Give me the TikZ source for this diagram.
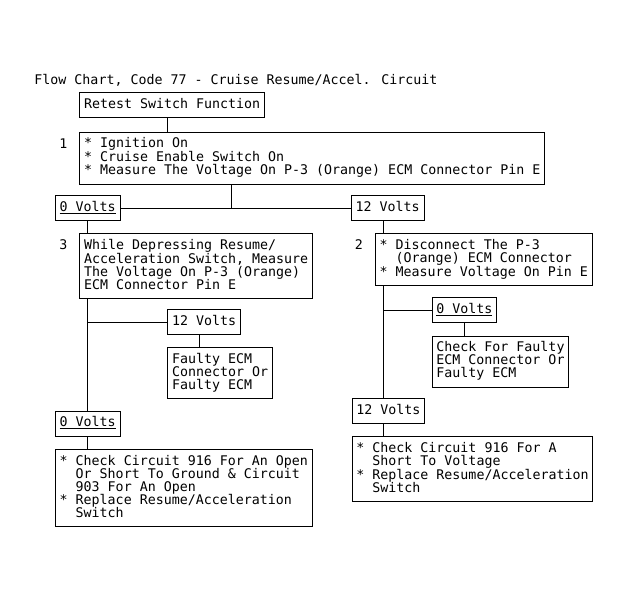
\documentclass[tikz,border=0pt]{standalone}
\usepackage{fontspec}
\newfontfamily\chartfont{DejaVu Sans Mono}
\newcommand{\hangin}{\phantom{*~}}
\tikzstyle{stepbox}=[draw,anchor=north west,align=left,inner xsep=4.25pt,inner ysep=5.5pt,font={\chartfont\fontsize{13.3pt}{13pt}\selectfont},execute at begin node=\strut,execute at end node=\strut]
\tikzstyle{stepnum}=[inner sep=0pt,font={\chartfont\fontsize{13.3pt}{13pt}\selectfont}]
\tikzstyle{heading}=[anchor=base west,inner sep=0pt,font={\chartfont\fontsize{13.3pt}{13pt}\selectfont}]
\tikzstyle{link}=[draw]
\begin{document}
\begin{tikzpicture}[x=1pt,y=-1pt,line width=0.9pt]
  \path[fill=white] (0,0) rectangle (630,601);
  \useasboundingbox (0,0) rectangle (630,601);

  \node[heading] (title) at (34,85) {Flow Chart, Code 77 - Cruise Resume/Accel. Circuit};

  % steps
  \node[stepbox] (retest) at (79.3,92.3) {Retest Switch Function};
  \node[stepbox] (box1) at (79.3,131.7) {* Ignition On\\* Cruise Enable Switch On\\* Measure The Voltage On P-3 (Orange) ECM Connector Pin E};
  \node[stepbox] (box3) at (79.3,233.3) {While Depressing Resume/\\Acceleration Switch, Measure\\The Voltage On P-3 (Orange)\\ECM Connector Pin E};
  \node[stepbox] (box2) at (375,233.3) {* Disconnect The P-3\\\hangin(Orange) ECM Connector\\* Measure Voltage On Pin E};
  \node[stepbox] (faultyA) at (167.3,347) {Faulty ECM\\Connector Or\\Faulty ECM};
  \node[stepbox] (faultyB) at (431.7,335.7) {Check For Faulty\\ECM Connector Or\\Faulty ECM};
  \node[stepbox] (endL) at (55,449) {* Check Circuit 916 For An Open\\\hangin Or Short To Ground \& Circuit\\\hangin 903 For An Open\\* Replace Resume/Acceleration\\\hangin Switch};
  \node[stepbox] (endR) at (351.7,436) {* Check Circuit 916 For A\\\hangin Short To Voltage\\* Replace Resume/Acceleration\\\hangin Switch};

  % results
  \foreach \pos/\name/\volts in {{(55,195)/lowA/\underline{0 Volts}},{(351,195)/highA/12 Volts},{(167.3,309.3)/highB/12 Volts},{(55,410.7)/lowB/\underline{0 Volts}},{(431.7,297.3)/lowC/\underline{0 Volts}},{(351.7,398.3)/highC/12 Volts}}
    \node[stepbox] (\name) at \pos {\volts};

  \foreach \blk/\num in {box1/1,box3/3,box2/2}
    \node[stepnum] (num\num) at ([xshift=-16pt,yshift=-11.5pt]\blk.north west) {\num};

  % Connect boxes
  \coordinate (tapT) at (167.7,0);
  \coordinate (tapM) at (231.7,0);
  \coordinate (tapF) at (199.3,0);
  \coordinate (spineR) at (383.3,0);

  \path[link] (retest.south -| tapT) -- (box1.north -| tapT);
  \path[link] (box1.south -| tapM) -- (lowA.east -| tapM);
  \path[link] (lowA.east) -- (highA.west);

  \path[link] (lowA.south) -- (lowA.south |- box3.north);
  \path[link] (box3.south -| lowB.north) -- (lowB.north);
  \path[link] (highB.west) -- (highB.west -| lowB.north);
  \path[link] (highB.south -| tapF) -- (faultyA.north -| tapF);
  \path[link] (lowB.south) -- (endL.north -| lowB.south);

  \path[link] (highA.south -| spineR) -- (box2.north -| spineR);
  \path[link] (box2.south -| spineR) -- (highC.north -| spineR);
  \path[link] (lowC.west) -- (lowC.west -| spineR);
  \path[link] (lowC.south) -- (faultyB.north -| lowC.south);
  \path[link] (highC.south -| spineR) -- (endR.north -| spineR);

\end{tikzpicture}
\end{document}
